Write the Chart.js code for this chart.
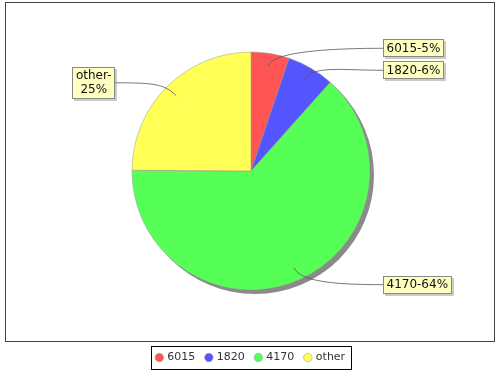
<!DOCTYPE html>
<html>
<head>
<meta charset="utf-8">
<script src="https://cdn.jsdelivr.net/npm/chart.js@4.4.0/dist/chart.umd.min.js"></script>
<style>
  html, body { margin: 0; padding: 0; background: #fff; }
  #wrap { width: 500px; height: 370px; }
</style>
</head>
<body>
<div id="wrap"><canvas id="pie" width="500" height="370"></canvas></div>
<script>
// ---- data ----
const categories = ['6015', '1820', '4170', 'other'];
const shares = [5.2, 6.4, 63.5, 24.9];
const sliceColors = ['#ff5555', '#5555ff', '#55ff55', '#ffff55'];

const FONT = '"DejaVu Sans", sans-serif';
const MAX_LABEL_W = 62.2;   // wider labels get wrapped after the dash

// plot frame + pie shadow + legend border
const frame = {
  id: 'frame',
  beforeDraw(chart) {
    const ctx = chart.ctx;
    ctx.save();
    ctx.fillStyle = '#fff';
    ctx.fillRect(0, 0, chart.width, chart.height);
    ctx.strokeStyle = '#444';
    ctx.lineWidth = 1;
    ctx.strokeRect(5.5, 2.5, chart.width - 11, chart.legend.top - 2);
    ctx.restore();
  },
  beforeDatasetsDraw(chart) {
    const arc = chart.getDatasetMeta(0).data[0];
    if (!arc) return;
    const ctx = chart.ctx;
    ctx.save();
    ctx.fillStyle = '#8a8a8a';
    ctx.beginPath();
    ctx.arc(arc.x + 4, arc.y + 4, arc.outerRadius, 0, Math.PI * 2);
    ctx.fill();
    ctx.restore();
  },
  afterDraw(chart) {
    const hb = chart.legend.legendHitBoxes;
    if (!hb || !hb.length) return;
    const left = Math.min(...hb.map(b => b.left)) - 6;
    const right = Math.max(...hb.map(b => b.left + b.width)) + 6;
    const mid = hb[0].top + hb[0].height / 2;
    const ctx = chart.ctx;
    ctx.save();
    ctx.strokeStyle = '#000';
    ctx.lineWidth = 1;
    ctx.strokeRect(Math.round(left) + 0.5, Math.round(mid - 12) + 0.5, Math.round(right - left), 23);
    ctx.restore();
  }
};

// JFreeChart-like section labels with curved links
const pieLabels = {
  id: 'pieLabels',
  afterDatasetsDraw(chart) {
    const ctx = chart.ctx;
    const arcs = chart.getDatasetMeta(0).data;
    const total = shares.reduce((a, b) => a + b, 0);
    ctx.save();
    ctx.font = '12px ' + FONT;

    const items = arcs.map((arc, i) => {
      const p = arc.getProps(['x', 'y', 'startAngle', 'endAngle', 'outerRadius'], true);
      const mid = (p.startAngle + p.endAngle) / 2;
      const text = categories[i] + '-' + Math.round(shares[i] / total * 100) + '%';
      let lines = [text];
      if (ctx.measureText(text).width > MAX_LABEL_W) {
        const k = text.indexOf('-') + 1;
        lines = [text.slice(0, k), text.slice(k)];
      }
      const w = Math.max(...lines.map(l => ctx.measureText(l).width)) + 7;
      const h = lines.length * 14 + 4;
      return {
        x: p.x, y: p.y, r: p.outerRadius, mid, lines, w, h,
        right: Math.cos(mid) >= 0,
        ly: p.y + Math.sin(mid) * p.outerRadius * 1.045
      };
    });

    // push overlapping labels apart on each side
    [true, false].forEach(side => {
      const grp = items.filter(it => it.right === side).sort((a, b) => a.ly - b.ly);
      for (let i = 1; i < grp.length; i++) {
        const prev = grp[i - 1], cur = grp[i];
        const minY = prev.ly + prev.h / 2 + 4 + cur.h / 2;
        if (cur.ly < minY) cur.ly = minY;
      }
    });

    items.forEach(it => {
      const bx = it.right ? it.x + it.r + 13 : it.x - it.r - 17 - it.w;
      const by = it.ly - it.h / 2;
      const ex = it.right ? bx : bx + it.w;
      const ax = it.x + Math.cos(it.mid) * it.r * 0.89;
      const ay = it.y + Math.sin(it.mid) * it.r * 0.89;
      const c1x = it.x + Math.cos(it.mid) * it.r * 1.03;
      const c1y = it.y + Math.sin(it.mid) * it.r * 1.03;
      const c2x = ex + (it.right ? -40 : 40);

      ctx.strokeStyle = '#555';
      ctx.lineWidth = 0.8;
      ctx.beginPath();
      ctx.moveTo(ax, ay);
      ctx.bezierCurveTo(c1x, c1y, c2x, it.ly, ex, it.ly);
      ctx.stroke();

      ctx.fillStyle = 'rgba(151,151,151,0.5)';
      ctx.fillRect(Math.round(bx) + 2, Math.round(by) + 2, Math.round(it.w), Math.round(it.h));
      ctx.fillStyle = '#ffffc0';
      ctx.fillRect(Math.round(bx), Math.round(by), Math.round(it.w), Math.round(it.h));
      ctx.strokeStyle = '#888';
      ctx.lineWidth = 1;
      ctx.strokeRect(Math.round(bx) + 0.5, Math.round(by) + 0.5, Math.round(it.w) - 1, Math.round(it.h) - 1);

      ctx.fillStyle = '#111';
      ctx.textAlign = 'center';
      ctx.textBaseline = 'middle';
      it.lines.forEach((l, j) => {
        ctx.fillText(l, bx + it.w / 2, by + 2 + 7 + j * 14 + 0.5);
      });
    });
    ctx.restore();
  }
};

new Chart(document.getElementById('pie'), {
  type: 'pie',
  data: {
    labels: categories,
    datasets: [{
      data: shares,
      backgroundColor: sliceColors,
      borderColor: '#999',
      borderWidth: 0.5
    }]
  },
  options: {
    responsive: false,
    devicePixelRatio: 1,
    animation: false,
    radius: 119,
    layout: { padding: { left: 6, right: 4, top: 1, bottom: -3 } },
    plugins: {
      tooltip: { enabled: false },
      legend: {
        position: 'bottom',
        labels: {
          usePointStyle: true,
          pointStyle: 'circle',
          boxWidth: 5,
          boxHeight: 6,
          padding: 11,
          color: '#333',
          font: { family: FONT, size: 11 }
        }
      }
    }
  },
  plugins: [frame, pieLabels]
});
</script>
</body>
</html>
